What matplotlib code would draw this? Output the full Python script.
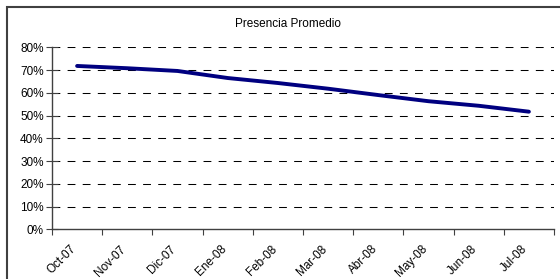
import matplotlib
matplotlib.use("Agg")
import matplotlib.pyplot as plt
from matplotlib.patches import Rectangle
from matplotlib.transforms import ScaledTranslation

plt.rcParams['font.family'] = ['Liberation Sans', 'DejaVu Sans']

meses = ['Oct-07', 'Nov-07', 'Dic-07', 'Ene-08', 'Feb-08',
         'Mar-08', 'Abr-08', 'May-08', 'Jun-08', 'Jul-08']
presencia = [0.718, 0.708, 0.696, 0.665, 0.643,
             0.618, 0.590, 0.563, 0.543, 0.517]
y_ticks = [0, 0.1, 0.2, 0.3, 0.4, 0.5, 0.6, 0.7, 0.8]
y_labels = ['0%', '10%', '20%', '30%', '40%', '50%', '60%', '70%', '80%']

fig = plt.figure(figsize=(5.6, 2.79), dpi=100)
ax = fig.add_axes([52 / 560, 1 - 229.3 / 279, (554 - 52) / 560, (229.3 - 47.3) / 279])

# outer chart border (clipped at right/bottom like the original)
fig.patches.append(Rectangle((7 / 560, -0.1), 1.0, 1 - 7 / 279 + 0.1,
                             transform=fig.transFigure, fill=False,
                             edgecolor='#404040', linewidth=1.5))

x = list(range(len(meses)))
ax.plot(x, presencia, color='#000080', linewidth=2.8, solid_capstyle='round')

ax.set_xlim(-0.5, len(meses) - 0.5)
ax.set_ylim(0, 0.8)

ax.set_yticks(y_ticks)
ax.set_yticklabels(y_labels, fontsize=8.5)
for v in y_ticks[1:]:
    ax.axhline(v, color='black', linewidth=0.75, linestyle=(0, (7.5, 7)), zorder=0)

ax.set_xticks([i - 0.5 for i in range(len(meses) + 1)])
ax.set_xticklabels([])
ax.set_xticks(x, minor=True)
ax.set_xticklabels(meses, minor=True, fontsize=8.5, rotation=45,
                   ha='right', va='center', rotation_mode='anchor')
ax.tick_params(axis='x', which='minor', length=0, pad=13)
ax.tick_params(axis='x', which='major', direction='out', length=4, color='#404040')
ax.tick_params(axis='y', direction='inout', length=8, color='#404040', pad=2)

shift = ScaledTranslation(-3 / 100, 0, fig.dpi_scale_trans)
for lbl in ax.get_xticklabels(minor=True):
    lbl.set_transform(lbl.get_transform() + shift)

for s in ['top', 'right']:
    ax.spines[s].set_visible(False)
for s in ['left', 'bottom']:
    ax.spines[s].set_color('#404040')
    ax.spines[s].set_linewidth(1.0)

fig.text(288 / 560, 1 - 24 / 279, 'Presencia Promedio', ha='center', va='center', fontsize=8.5)

fig.savefig('out.png', dpi=100)
